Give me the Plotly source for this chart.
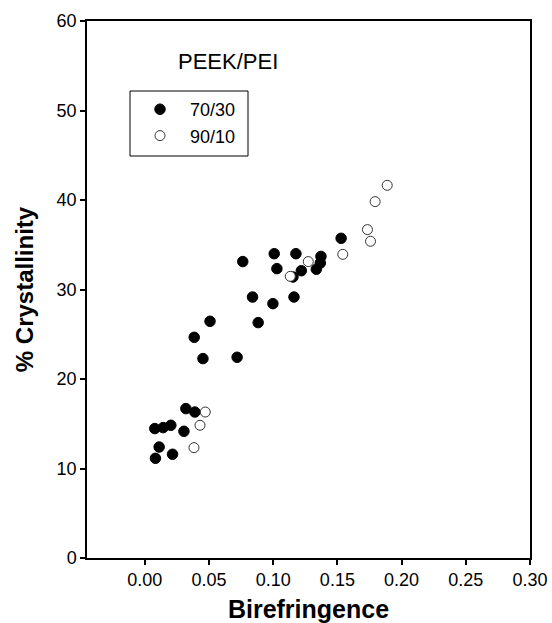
import plotly.graph_objects as go

# 70/30 PEEK/PEI (filled)
x_7030 = [0.0078, 0.0143, 0.0203, 0.0112, 0.0083, 0.0216, 0.0305, 0.032, 0.039,
          0.0763, 0.1008, 0.1177, 0.1029, 0.1219, 0.1372, 0.1367, 0.1336, 0.1529,
          0.0839, 0.0998, 0.1162, 0.0883, 0.0508, 0.0385, 0.0453, 0.0719, 0.1154]
y_7030 = [14.46, 14.57, 14.83, 12.4, 11.14, 11.59, 14.16, 16.69, 16.31,
          33.12, 34.0, 34.0, 32.33, 32.1, 33.7, 32.96, 32.26, 35.72,
          29.16, 28.42, 29.16, 26.3, 26.45, 24.66, 22.28, 22.43, 31.4]

# 90/10 PEEK/PEI (open)
x_9010 = [0.0471, 0.043, 0.0383, 0.1133, 0.1273, 0.1542, 0.1734, 0.1758, 0.1794, 0.1888]
y_9010 = [16.31, 14.83, 12.33, 31.47, 33.12, 33.93, 36.69, 35.39, 39.82, 41.64]

x_ticks = [0.0, 0.05, 0.10, 0.15, 0.20, 0.25, 0.30]
x_ticklabels = ["0.00", "0.05", "0.10", "0.15", "0.20", "0.25", "0.30"]
y_ticks = [0, 10, 20, 30, 40, 50, 60]

FONT = "Liberation Sans, Arial, sans-serif"

fig = go.Figure()
fig.add_trace(go.Scatter(
    x=x_7030, y=y_7030, mode="markers", name="70/30",
    marker=dict(size=10.5, color="black", line=dict(color="black", width=1)),
))
fig.add_trace(go.Scatter(
    x=x_9010, y=y_9010, mode="markers", name="90/10",
    marker=dict(size=10, color="white", line=dict(color="#333333", width=1)),
))

axis_common = dict(
    showline=True, linecolor="black", linewidth=1.5, mirror=True,
    ticks="outside", ticklen=5, tickwidth=1.5, tickcolor="black",
    showgrid=False, zeroline=False, automargin=False,
    tickfont=dict(family=FONT, size=18, color="black"),
)

L, R, T, B = 87, 22, 21, 65
W, H = 552, 623
pw, ph = W - L - R, H - T - B


def px_x(p):
    return (p - L) / pw


def px_y(p):
    return 1 - (p - T) / ph


fig.update_layout(
    width=W, height=H,
    margin=dict(l=L, r=R, t=T, b=B),
    paper_bgcolor="white", plot_bgcolor="white",
    font=dict(family=FONT, color="black"),
    xaxis=dict(range=[-0.045, 0.30], tickvals=x_ticks, ticktext=x_ticklabels,
               title=dict(text="<b>Birefringence</b>", font=dict(family=FONT, size=25), standoff=12),
               **axis_common),
    yaxis=dict(range=[0, 60], tickvals=y_ticks,
               title=dict(text="<b>% Crystallinity</b>", font=dict(family=FONT, size=24), standoff=16),
               **axis_common),
    legend=dict(x=px_x(130), y=px_y(91), xanchor="left", yanchor="top",
                bgcolor="rgba(0,0,0,0)", borderwidth=0,
                font=dict(family=FONT, size=18), tracegroupgap=0,
                itemwidth=50),
    showlegend=True,
    shapes=[dict(type="rect", xref="paper", yref="paper",
                 x0=px_x(130), x1=px_x(248), y0=px_y(156), y1=px_y(91),
                 line=dict(color="black", width=1), fillcolor="rgba(0,0,0,0)", layer="below")],
    annotations=[dict(text="PEEK/PEI", x=px_x(228), y=px_y(61), xref="paper", yref="paper",
                      xanchor="center", yanchor="middle",
                      showarrow=False, font=dict(family=FONT, size=22, color="black"))],
)

fig.write_html("out.html")
